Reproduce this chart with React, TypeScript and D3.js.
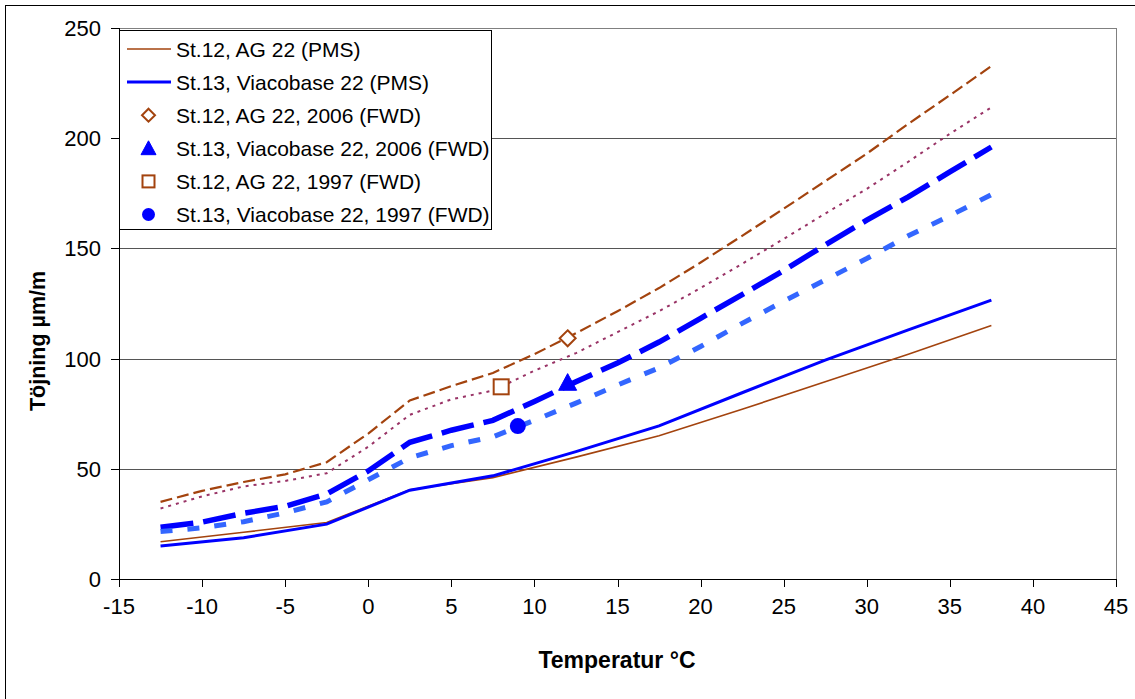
import React from "react";
import * as d3 from "d3";

const xTicks = [-15, -10, -5, 0, 5, 10, 15, 20, 25, 30, 35, 40, 45];
const yTicks = [0, 50, 100, 150, 200, 250];
const yGrid = [50, 100, 150, 200];

// PMS (calculated) series at 5-degree steps
const tempsPMS = [-12.5, -7.5, -2.5, 2.5, 7.5, 12.5, 17.5, 22.5, 27.5, 32.5, 37.5];
const st12PMS = [16.9, 21.2, 25.6, 40.5, 46, 55.3, 65, 77, 89.5, 102, 115];
const st13PMS = [15.0, 18.7, 24.9, 40.3, 46.8, 57.8, 69.5, 84.5, 99.3, 113, 126.5];

// additional (unlabelled) series at 2.5-degree steps
const tempsFine = [-12.5, -10, -7.5, -5, -2.5, 0, 2.5, 5, 7.5, 10, 12.5, 15, 17.5, 20, 22.5, 25, 27.5, 30, 32.5, 35, 37.5];
const st12Dashed = [35, 40, 44, 47.5, 53, 66, 81, 87.5, 93.5, 102, 111.5, 121.5, 132, 143.6, 155.7, 168, 180.5, 193, 206.5, 219.5, 232.7];
const st12Dotted = [32, 37.5, 42, 44.5, 48, 60, 74.5, 81.5, 85.5, 94.5, 102.5, 112, 121.5, 132, 143, 154.3, 165.8, 177, 189.3, 202, 214];
const st13LongDash = [23.5, 25.8, 29.8, 33, 38.6, 49, 62, 67.5, 72, 80.5, 89.5, 98, 107.5, 118.3, 129, 140, 151.6, 162.8, 173.4, 184.7, 196];
const st13Dashed = [21.5, 23.2, 26, 30, 35, 45, 55, 60.5, 64.5, 72, 79.8, 88, 95.8, 105.5, 116, 126, 135.7, 145.4, 155.7, 164.8, 174.4];

// FWD measurements
const fwdSt12_2006 = { t: 12, v: 109.2 };
const fwdSt13_2006 = { t: 12, v: 89.1 };
const fwdSt12_1997 = { t: 8, v: 87.2 };
const fwdSt13_1997 = { t: 9, v: 69.4 };

const legendLabels = [
  "St.12, AG 22 (PMS)",
  "St.13, Viacobase 22 (PMS)",
  "St.12, AG 22, 2006 (FWD)",
  "St.13, Viacobase 22, 2006 (FWD)",
  "St.12, AG 22, 1997 (FWD)",
  "St.13, Viacobase 22, 1997 (FWD)",
];

const BROWN = "#A3430E";
const PURPLE = "#993366";
const BLUE = "#0000FF";
const LIGHTBLUE = "#3366FF";
const FONT = "'Liberation Sans', Arial, sans-serif";

export default function App() {
  const W = 1135;
  const H = 699;
  const x = d3.scaleLinear().domain([-15, 45]).range([119, 1116]);
  const y = d3.scaleLinear().domain([0, 250]).range([579, 28]);

  const mk = (ts: number[], vs: number[]) =>
    d3.line<number>().x((_, i) => x(ts[i])).y((d) => y(d))(vs) || "";

  const x0 = x(-15);
  const x1 = x(45);
  const y0 = y(0);
  const y1 = y(250);

  const diamond = (cx: number, cy: number, r: number) =>
    `M${cx},${cy - r}L${cx + r},${cy}L${cx},${cy + r}L${cx - r},${cy}Z`;
  const triangle = (cx: number, cy: number, r: number) =>
    `M${cx},${cy - r}L${cx + r},${cy + r * 0.85}L${cx - r},${cy + r * 0.85}Z`;

  const legX = x0;
  const legY = 30;
  const legW = 372;
  const legH = 199;
  const rowY = (i: number) => 49 + i * 33.1;
  const sampleX0 = 127;
  const sampleX1 = 171;
  const markX = 148.5;
  const textX = 176;

  return (
    <svg
      width={W}
      height={H}
      style={{ position: "absolute", left: 0, top: 0, background: "#fff" }}
      fontFamily={FONT}
    >
      {/* outer chart frame */}
      <rect x={5.5} y={5.5} width={1200} height={800} fill="none" stroke="#000" strokeWidth={1} />

      {/* gridlines */}
      {yGrid.map((v) => (
        <line key={v} x1={x0} x2={x1} y1={Math.round(y(v)) + 0.5} y2={Math.round(y(v)) + 0.5} stroke="#555" strokeWidth={1} />
      ))}
      {/* plot border top/right */}
      <line x1={x0} x2={x1} y1={Math.round(y1) + 0.5} y2={Math.round(y1) + 0.5} stroke="#808080" strokeWidth={1} />
      <line x1={Math.round(x1) + 0.5} x2={Math.round(x1) + 0.5} y1={y1} y2={y0} stroke="#808080" strokeWidth={1} />

      {/* axes */}
      <line x1={Math.round(x0) + 0.5} x2={Math.round(x0) + 0.5} y1={y1} y2={y0} stroke="#000" strokeWidth={1} />
      <line x1={x0} x2={x1} y1={Math.round(y0) + 0.5} y2={Math.round(y0) + 0.5} stroke="#000" strokeWidth={1} />
      {yTicks.map((v) => (
        <g key={v}>
          <line x1={x0 - 8} x2={x0} y1={Math.round(y(v)) + 0.5} y2={Math.round(y(v)) + 0.5} stroke="#000" />
          <text x={101} y={y(v) + 8} fontSize={22} textAnchor="end" fill="#000">
            {v}
          </text>
        </g>
      ))}
      {xTicks.map((v) => (
        <g key={v}>
          <line x1={Math.round(x(v)) + 0.5} x2={Math.round(x(v)) + 0.5} y1={y0} y2={y0 + 8} stroke="#000" />
          <text x={x(v)} y={614} fontSize={22} textAnchor="middle" fill="#000">
            {v}
          </text>
        </g>
      ))}

      {/* axis titles */}
      <text x={617} y={668} fontSize={23} fontWeight="bold" textAnchor="middle" fill="#000">
        Temperatur °C
      </text>
      <text
        transform="translate(45,341) rotate(-90)"
        fontSize={21.5}
        fontWeight="bold"
        textAnchor="middle"
        fill="#000"
      >
        Töjning µm/m
      </text>

      {/* series lines */}
      <path d={mk(tempsFine, st12Dashed)} fill="none" stroke={BROWN} strokeWidth={2.2} strokeDasharray="12,5" />
      <path d={mk(tempsFine, st12Dotted)} fill="none" stroke={PURPLE} strokeWidth={2} strokeDasharray="3,5" />
      <path d={mk(tempsFine, st13LongDash)} fill="none" stroke={BLUE} strokeWidth={5.5} strokeDasharray="33,10" />
      <path d={mk(tempsFine, st13Dashed)} fill="none" stroke={LIGHTBLUE} strokeWidth={5} strokeDasharray="12,15" />
      <path d={mk(tempsPMS, st12PMS)} fill="none" stroke={BROWN} strokeWidth={1.6} />
      <path d={mk(tempsPMS, st13PMS)} fill="none" stroke={BLUE} strokeWidth={3} />

      {/* FWD markers */}
      <path d={diamond(x(fwdSt12_2006.t), y(fwdSt12_2006.v), 8)} fill="#fff" stroke={BROWN} strokeWidth={2} />
      <rect
        x={x(fwdSt12_1997.t) - 7.5}
        y={y(fwdSt12_1997.v) - 7.5}
        width={15}
        height={15}
        fill="#fff"
        stroke={BROWN}
        strokeWidth={2}
      />
      <path d={triangle(x(fwdSt13_2006.t), y(fwdSt13_2006.v), 9)} fill={BLUE} stroke={BLUE} strokeWidth={1} />
      <circle cx={x(fwdSt13_1997.t)} cy={y(fwdSt13_1997.v)} r={8} fill={BLUE} />

      {/* legend */}
      <rect x={legX + 0.5} y={legY + 0.5} width={legW} height={legH} fill="#fff" stroke="#000" strokeWidth={1} />
      <line x1={sampleX0} x2={sampleX1} y1={rowY(0)} y2={rowY(0)} stroke={BROWN} strokeWidth={1.6} />
      <line x1={sampleX0} x2={sampleX1} y1={rowY(1)} y2={rowY(1)} stroke={BLUE} strokeWidth={3} />
      <path d={diamond(markX, rowY(2), 6.5)} fill="#fff" stroke={BROWN} strokeWidth={2} />
      <path d={triangle(markX, rowY(3), 7.5)} fill={BLUE} stroke={BLUE} strokeWidth={1} />
      <rect x={markX - 6} y={rowY(4) - 6} width={12} height={12} fill="#fff" stroke={BROWN} strokeWidth={2} />
      <circle cx={markX} cy={rowY(5)} r={6.5} fill={BLUE} />
      {legendLabels.map((l, i) => (
        <text key={l} x={textX} y={rowY(i) + 7.5} fontSize={21} fill="#000">
          {l}
        </text>
      ))}
    </svg>
  );
}
